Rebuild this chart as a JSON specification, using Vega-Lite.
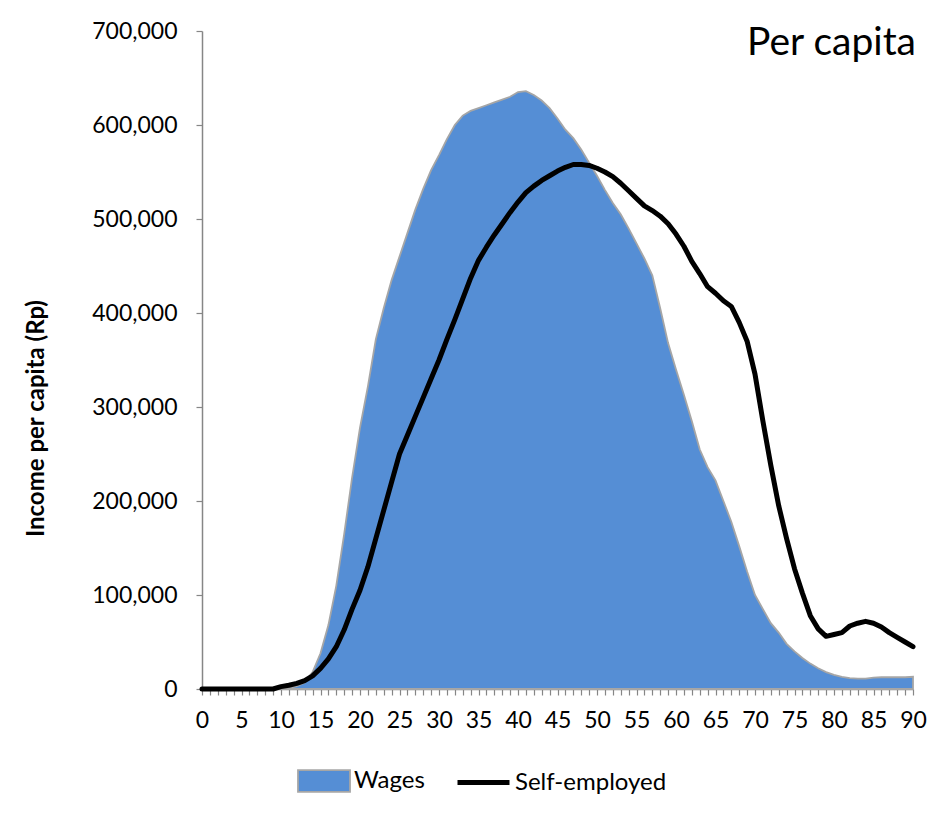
{
  "$schema": "https://vega.github.io/schema/vega-lite/v6.json",
  "width": 711,
  "height": 658,
  "autosize": {"type": "none"},
  "padding": {"left": 202, "top": 31, "right": 38, "bottom": 128},
  "background": "white",
  "title": {"text": "Per capita", "anchor": "end", "frame": "group", "orient": "top", "fontSize": 39, "font": "Lato", "fontWeight": "normal", "color": "#000000", "offset": -43, "dx": 3, "baseline": "top"},
  "config": {
    "view": {"stroke": null},
    "font": "Lato",
    "axis": {"labelFont": "Lato", "titleFont": "Lato", "labelColor": "#000000", "titleColor": "#000000", "domainColor": "#868686", "tickColor": "#868686", "grid": false},
    "legend": {"labelFont": "Lato", "labelColor": "#000000"}
  },
  "data": {
    "values": [
      {"age": 0, "Wages": 0, "Self-employed": 0},
      {"age": 1, "Wages": 0, "Self-employed": 0},
      {"age": 2, "Wages": 0, "Self-employed": 0},
      {"age": 3, "Wages": 0, "Self-employed": 0},
      {"age": 4, "Wages": 0, "Self-employed": 0},
      {"age": 5, "Wages": 0, "Self-employed": 0},
      {"age": 6, "Wages": 0, "Self-employed": 0},
      {"age": 7, "Wages": 0, "Self-employed": 0},
      {"age": 8, "Wages": 0, "Self-employed": 0},
      {"age": 9, "Wages": 0, "Self-employed": 0},
      {"age": 10, "Wages": 0, "Self-employed": 2500},
      {"age": 11, "Wages": 1000, "Self-employed": 4000},
      {"age": 12, "Wages": 3000, "Self-employed": 6000},
      {"age": 13, "Wages": 7000, "Self-employed": 9000},
      {"age": 14, "Wages": 18000, "Self-employed": 14000},
      {"age": 15, "Wages": 38000, "Self-employed": 22000},
      {"age": 16, "Wages": 68000, "Self-employed": 32000},
      {"age": 17, "Wages": 110000, "Self-employed": 45000},
      {"age": 18, "Wages": 165000, "Self-employed": 63000},
      {"age": 19, "Wages": 225000, "Self-employed": 85000},
      {"age": 20, "Wages": 278000, "Self-employed": 105000},
      {"age": 21, "Wages": 322000, "Self-employed": 130000},
      {"age": 22, "Wages": 372000, "Self-employed": 160000},
      {"age": 23, "Wages": 405000, "Self-employed": 190000},
      {"age": 24, "Wages": 435000, "Self-employed": 220000},
      {"age": 25, "Wages": 460000, "Self-employed": 250000},
      {"age": 26, "Wages": 485000, "Self-employed": 270000},
      {"age": 27, "Wages": 510000, "Self-employed": 290000},
      {"age": 28, "Wages": 532000, "Self-employed": 310000},
      {"age": 29, "Wages": 552000, "Self-employed": 330000},
      {"age": 30, "Wages": 568000, "Self-employed": 350000},
      {"age": 31, "Wages": 585000, "Self-employed": 372000},
      {"age": 32, "Wages": 600000, "Self-employed": 393000},
      {"age": 33, "Wages": 610000, "Self-employed": 415000},
      {"age": 34, "Wages": 615000, "Self-employed": 437000},
      {"age": 35, "Wages": 618000, "Self-employed": 456000},
      {"age": 36, "Wages": 621000, "Self-employed": 470000},
      {"age": 37, "Wages": 624000, "Self-employed": 483000},
      {"age": 38, "Wages": 627000, "Self-employed": 495000},
      {"age": 39, "Wages": 630000, "Self-employed": 507000},
      {"age": 40, "Wages": 635000, "Self-employed": 518000},
      {"age": 41, "Wages": 636000, "Self-employed": 528000},
      {"age": 42, "Wages": 632000, "Self-employed": 535000},
      {"age": 43, "Wages": 626000, "Self-employed": 541000},
      {"age": 44, "Wages": 618000, "Self-employed": 546000},
      {"age": 45, "Wages": 607000, "Self-employed": 551000},
      {"age": 46, "Wages": 595000, "Self-employed": 555000},
      {"age": 47, "Wages": 586000, "Self-employed": 558000},
      {"age": 48, "Wages": 574000, "Self-employed": 558000},
      {"age": 49, "Wages": 560000, "Self-employed": 557000},
      {"age": 50, "Wages": 546000, "Self-employed": 554000},
      {"age": 51, "Wages": 531000, "Self-employed": 550000},
      {"age": 52, "Wages": 517000, "Self-employed": 545000},
      {"age": 53, "Wages": 505000, "Self-employed": 538000},
      {"age": 54, "Wages": 490000, "Self-employed": 530000},
      {"age": 55, "Wages": 474000, "Self-employed": 522000},
      {"age": 56, "Wages": 458000, "Self-employed": 514000},
      {"age": 57, "Wages": 440000, "Self-employed": 509000},
      {"age": 58, "Wages": 405000, "Self-employed": 503000},
      {"age": 59, "Wages": 368000, "Self-employed": 495000},
      {"age": 60, "Wages": 340000, "Self-employed": 484000},
      {"age": 61, "Wages": 313000, "Self-employed": 471000},
      {"age": 62, "Wages": 285000, "Self-employed": 455000},
      {"age": 63, "Wages": 255000, "Self-employed": 442000},
      {"age": 64, "Wages": 236000, "Self-employed": 428000},
      {"age": 65, "Wages": 222000, "Self-employed": 421000},
      {"age": 66, "Wages": 200000, "Self-employed": 413000},
      {"age": 67, "Wages": 178000, "Self-employed": 407000},
      {"age": 68, "Wages": 152000, "Self-employed": 390000},
      {"age": 69, "Wages": 125000, "Self-employed": 370000},
      {"age": 70, "Wages": 100000, "Self-employed": 335000},
      {"age": 71, "Wages": 85000, "Self-employed": 285000},
      {"age": 72, "Wages": 70000, "Self-employed": 238000},
      {"age": 73, "Wages": 60000, "Self-employed": 195000},
      {"age": 74, "Wages": 48000, "Self-employed": 160000},
      {"age": 75, "Wages": 40000, "Self-employed": 128000},
      {"age": 76, "Wages": 33000, "Self-employed": 102000},
      {"age": 77, "Wages": 27000, "Self-employed": 78000},
      {"age": 78, "Wages": 22000, "Self-employed": 64000},
      {"age": 79, "Wages": 18000, "Self-employed": 56000},
      {"age": 80, "Wages": 15000, "Self-employed": 58000},
      {"age": 81, "Wages": 13000, "Self-employed": 60000},
      {"age": 82, "Wages": 11500, "Self-employed": 67000},
      {"age": 83, "Wages": 11000, "Self-employed": 70000},
      {"age": 84, "Wages": 11000, "Self-employed": 72000},
      {"age": 85, "Wages": 12000, "Self-employed": 70000},
      {"age": 86, "Wages": 12500, "Self-employed": 66000},
      {"age": 87, "Wages": 12500, "Self-employed": 60000},
      {"age": 88, "Wages": 12500, "Self-employed": 55000},
      {"age": 89, "Wages": 12500, "Self-employed": 50000},
      {"age": 90, "Wages": 13000, "Self-employed": 45000}
    ]
  },
  "transform": [
    {"fold": ["Wages", "Self-employed"], "as": ["series", "value"]}
  ],
  "encoding": {
    "x": {
      "field": "age", "type": "quantitative",
      "scale": {"domain": [0, 90], "nice": false, "zero": false},
      "axis": {
        "title": null,
        "values": [0,1,2,3,4,5,6,7,8,9,10,11,12,13,14,15,16,17,18,19,20,21,22,23,24,25,26,27,28,29,30,31,32,33,34,35,36,37,38,39,40,41,42,43,44,45,46,47,48,49,50,51,52,53,54,55,56,57,58,59,60,61,62,63,64,65,66,67,68,69,70,71,72,73,74,75,76,77,78,79,80,81,82,83,84,85,86,87,88,89,90],
        "format": "d",
        "labelExpr": "datum.value % 5 === 0 ? datum.label : ''",
        "labelFlush": false,
        "labelOverlap": false,
        "labelFontSize": 23,
        "labelPadding": 14,
        "tickSize": 6,
        "tickWidth": 1.2,
        "domainWidth": 1.5
      }
    },
    "y": {
      "field": "value", "type": "quantitative",
      "scale": {"domain": [0, 700000], "nice": false},
      "axis": {
        "title": "Income per capita (Rp)",
        "values": [0, 100000, 200000, 300000, 400000, 500000, 600000, 700000],
        "format": ",.0f",
        "labelFontSize": 23,
        "labelPadding": 19,
        "tickSize": 6,
        "tickWidth": 1.2,
        "domainWidth": 1.5,
        "titleFontSize": 24,
        "titleFontWeight": "bold",
        "titleAngle": -90,
        "titleX": -159,
        "titleY": 387,
        "titleAlign": "center",
        "titleBaseline": "alphabetic"
      }
    }
  },
  "layer": [
    {
      "transform": [{"filter": "datum.series === 'Wages'"}],
      "mark": {"type": "area", "stroke": "#A6A6A6", "strokeWidth": 1.8, "opacity": 1},
      "encoding": {
        "fill": {
          "field": "series", "type": "nominal",
          "scale": {"domain": ["Wages"], "range": ["#558ED5"]},
          "legend": {
            "title": null,
            "orient": "none",
            "legendX": 95,
            "legendY": 723,
            "labelFontSize": 24,
            "labelOffset": 3,
            "symbolType": "M-1,-0.42H1V0.42H-1Z",
            "symbolSize": 2704,
            "symbolStrokeColor": "#A6A6A6",
            "symbolStrokeWidth": 1.8,
            "symbolOpacity": 1
          }
        }
      }
    },
    {
      "transform": [{"filter": "datum.series === 'Self-employed'"}],
      "mark": {"type": "line", "strokeWidth": 5, "strokeJoin": "round", "strokeCap": "round"},
      "encoding": {
        "stroke": {
          "field": "series", "type": "nominal",
          "scale": {"domain": ["Self-employed"], "range": ["#000000"]},
          "legend": {
            "title": null,
            "orient": "none",
            "legendX": 253,
            "legendY": 723,
            "labelFontSize": 24,
            "labelOffset": 3,
            "symbolType": "stroke",
            "symbolSize": 2704,
            "symbolStrokeWidth": 5,
            "symbolFillColor": "transparent",
            "symbolOpacity": 1
          }
        }
      }
    }
  ]
}
